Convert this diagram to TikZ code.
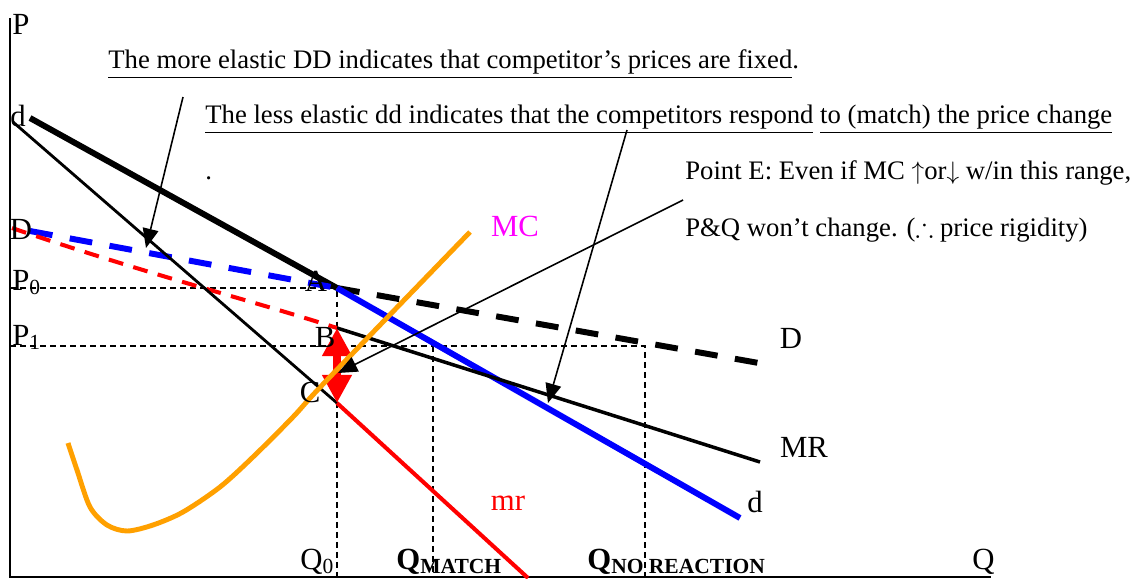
\documentclass[tikz,border=0pt]{standalone}
\usepackage{amssymb}
\usepackage{fontspec}
\setmainfont{Liberation Serif}
\usetikzlibrary{arrows.meta}
\definecolor{cBlue}{RGB}{0,0,255}
\definecolor{cRed}{RGB}{255,0,0}
\definecolor{cMagenta}{RGB}{255,0,255}
\definecolor{cOrange}{RGB}{255,160,0}
\tikzset{
	axis/.style    ={line width=1.1pt},
	guide/.style   ={dash pattern=on 3.4pt off 2.3pt, line width=0.85pt},
	bigdash/.style ={dash pattern=on 13pt off 10pt},
	lbl/.style     ={font=\fontsize{17.5}{20}\selectfont, inner sep=0pt},
	note/.style    ={font=\fontsize{15.2}{18}\selectfont, anchor=base west, inner sep=0pt},
	pointer/.style ={-{Triangle[length=11pt, width=9pt]}, line width=0.9pt},
	jump/.style    ={{Triangle[length=16pt, width=16pt]}-{Triangle[length=16pt, width=16pt]}, cRed, line width=4pt},
}
\begin{document}
\begin{tikzpicture}[x=0.02cm, y=-0.02cm]
	\useasboundingbox (0,0) rectangle (1142,578);
	% key points
	\coordinate (O) at (10,577);
	\coordinate (Ptop) at (10,18);
	\coordinate (Qend) at (991,577);
	\coordinate (A) at (337,288);
	\coordinate (B) at (337,328);
	\coordinate (C) at (337,403);
	\coordinate (dTop) at (30,118);
	\coordinate (dBot) at (740,518);
	\coordinate (DL) at (30,231);
	\coordinate (DR) at (770,365);
	\coordinate (mrL) at (12,228);
	\coordinate (mrTop) at (13,122);
	\coordinate (mrEnd) at (528,578);
	\coordinate (MRend) at (760,462);
	\coordinate (P0) at (10,288);
	\coordinate (P1) at (10,346);
	\coordinate (Q0) at (337,577);
	\coordinate (QmTop) at (433,346);
	\coordinate (Qm) at (433,577);
	\coordinate (QnTop) at (645,346);
	\coordinate (Qn) at (645,577);
	% axes
	\draw[axis] (Ptop) -- (O) -- (Qend);
	% guide lines
	\draw[guide] (P0) -- (A) -- (Q0);
	\draw[guide] (P1) -- (QnTop) -- (Qn);
	\draw[guide] (QmTop) -- (Qm);
	% demand curves
	\draw[line width=3.4pt] (dTop) -- (A);
	\draw[line width=3.4pt, bigdash] (A) -- (DR);
	\draw[cBlue, line width=3.4pt, bigdash] (DL) -- (A);
	\draw[cBlue, line width=3.4pt] (A) -- (dBot);
	% marginal revenue
	\draw[cRed, line width=2.3pt, dash pattern=on 8.5pt off 6pt] (mrL) .. controls (150,275) and (250,300) .. (B);
	\draw[line width=2pt] (B) -- (MRend);
	\draw[line width=1.6pt] (mrTop) -- (C);
	\draw[cRed, line width=2.3pt] (C) -- (mrEnd);
	\draw[jump] (B) -- (C);
	% marginal cost
	\draw[cOrange, line width=2.8pt] plot[smooth] coordinates {(68,443) (77,470) (90,507) (107,525) (127,531) (153,525) (183,512) (220,487) (253,457) (293,417) (327,380) (470,232)};
	% labels
	\node[lbl] (lP) at (21,24) {P};
	\node[lbl] (ld) at (18,116) {d};
	\node[lbl] (lD) at (21,229) {D};
	\node[lbl, anchor=base west] (lP0) at (12,290) {P\textsubscript{0}};
	\node[lbl, anchor=base west] (lP1) at (12,345) {P\textsubscript{1}};
	\node[lbl] (lA) at (316,281) {A};
	\node[lbl] (lB) at (325,337) {B};
	\node[lbl] (lC) at (310,392) {C};
	\node[lbl, text=cMagenta] (lMC) at (515,226) {MC};
	\node[lbl] (lDr) at (791,338) {D};
	\node[lbl] (lMR) at (804,447) {MR};
	\node[lbl] (ldr) at (755,502) {d};
	\node[lbl, text=cRed] (lmr) at (508,503) {mr};
	\node[lbl, anchor=base west] (lQ0) at (300,569) {Q\textsubscript{0}};
	\node[lbl, anchor=base west] (lQm) at (396,569) {\textbf{Q\textsubscript{MATCH}}};
	\node[lbl, anchor=base west] (lQn) at (587,569) {\textbf{Q\textsubscript{NO REACTION}}};
	\node[lbl, anchor=base west] (lQ) at (972,569) {Q};
	% notes
	\node[note] (ddNote) at (108,68) {\underline{The more elastic DD indicates that competitor’s prices are fixed}.};
	\node[note] (dNote) at (205,123) {\underline{The less elastic dd indicates that the competitors respond} \underline{to (match) the price change}};
	\node[note] (dot) at (205,179) {.};
	\node[note] (eNote) at (685,179) {Point E: Even if MC $\uparrow$or$\downarrow$ w/in this range,};
	\node[note] (eNote2) at (685,236) {P\&Q won’t change. ($\therefore$ price rigidity)};
	% pointers
	\coordinate (s1) at (183,97);
	\coordinate (t1) at (146,248);
	\coordinate (s2) at (627,130);
	\coordinate (t2) at (548,403);
	\coordinate (s3) at (683,200);
	\coordinate (t3) at (338,373);
	\draw[pointer] (s1) -- (t1);
	\draw[pointer] (s2) -- (t2);
	\draw[pointer] (s3) -- (t3);
\end{tikzpicture}
\end{document}
